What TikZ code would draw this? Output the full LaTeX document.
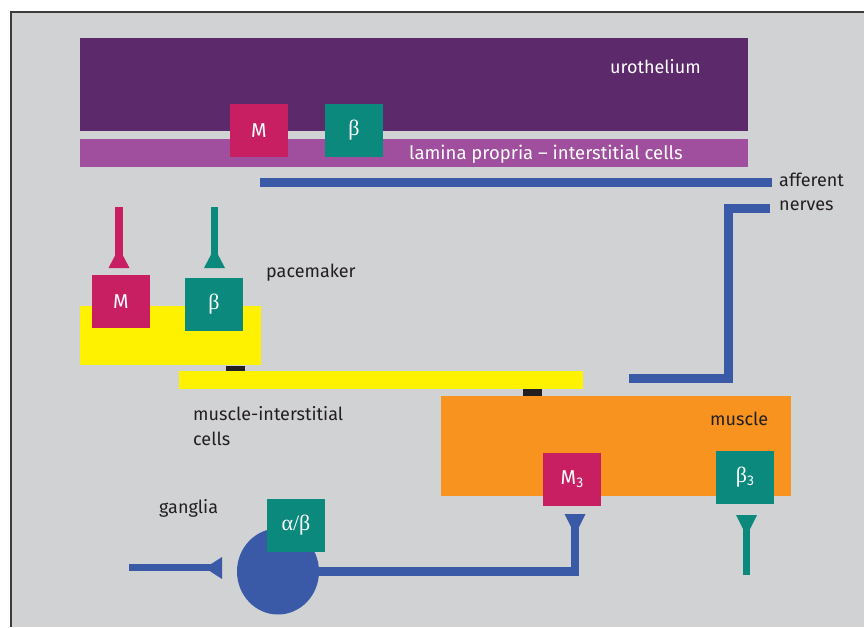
\documentclass[tikz,border=0pt]{standalone}
\usepackage{fontspec}
\setmainfont{Fira Sans}
\newfontfamily\grk{Liberation Serif}
\usetikzlibrary{shapes.geometric}

\definecolor{panel}{HTML}{D1D2D4}
\definecolor{frameline}{HTML}{3C3C3C}
\definecolor{uroviolet}{HTML}{5C296A}
\definecolor{lamviolet}{HTML}{A04F9E}
\definecolor{recmag}{HTML}{C81F63}
\definecolor{recteal}{HTML}{0A897C}
\definecolor{nerveblue}{HTML}{3A5AA8}
\definecolor{paceyellow}{HTML}{FFF200}
\definecolor{muscorange}{HTML}{F7931E}
\definecolor{ink}{HTML}{231F20}

\tikzset{
  layer/.style={inner sep=0pt, outer sep=0pt, anchor=north west, draw=none},
  recbox/.style={layer, minimum width=58pt, minimum height=53pt,
    text=white, font=\fontsize{20}{20}\selectfont},
  gapjn/.style={layer, fill=ink, minimum width=19pt},
  darktext/.style={anchor=base west, inner sep=0pt, text=ink,
    font=\fontsize{18}{18}\selectfont},
  lighttext/.style={darktext, text=white},
  nerve/.style={draw=nerveblue, line width=9pt, line join=miter},
  stem/.style={line width=7.5pt},
}
\newcommand\subthree{\raisebox{-3pt}{\fontsize{14}{14}\selectfont 3}}

\begin{document}
\begin{tikzpicture}[x=1pt, y=-1pt]
\useasboundingbox (0,0) rectangle (864,627);
\fill[white] (0,0) rectangle (864,627);
\fill[panel] (11,12) rectangle (864,627);
\draw[frameline, line width=1.6pt] (11,627) -- (11,12) -- (864,12);

% mucosa layers
\node[layer, fill=uroviolet, minimum width=668pt, minimum height=93pt] (uro) at (80,38) {};
\node[layer, fill=lamviolet, minimum width=668pt, minimum height=28pt] (lam) at (80,139) {};
\node[lighttext] (urotxt) at (610,73) {urothelium};
\node[lighttext, font=\fontsize{18.5}{18.5}\selectfont] (lamtxt) at (409,159) {lamina propria -- interstitial cells};
\node[recbox, fill=recmag] (mTop) at (230,104) {M};
\node[recbox, fill=recteal] (bTop) at (325,104) {\grk\fontsize{22}{22}\selectfont β};

% afferent nerves
\coordinate (affA) at (260,182.5);
\coordinate (affB) at (772,182.5);
\draw[nerve] (affA) -- (affB);
\node[darktext] (afftxt) at (779,186) {afferent};
\node[darktext] (nervtxt) at (779,210) {nerves};
\coordinate (effA) at (770,208.5);
\coordinate (effB) at (629,378.5);
\draw[nerve] (effA) -- (728.5,208.5) |- (effB);

% pacemaker interstitial cells
\node[layer, fill=paceyellow, minimum width=181pt, minimum height=59pt] (pace) at (80,306) {};
\node[recbox, fill=recmag] (mPace) at (92,275) {M};
\node[recbox, fill=recteal] (bPace) at (185,278) {\grk\fontsize{22}{22}\selectfont β};
\node[darktext] (pacetxt) at (266,277) {pacemaker};

% receptors on the pacemaker cells
\draw[recmag, stem] (119,207) -- (119,256);
\fill[recmag] (119,248) -- (129.5,268) -- (108.5,268) -- cycle;
\draw[recteal, stem] (214.5,207) -- (214.5,256);
\fill[recteal] (214.5,248) -- (225,268) -- (204,268) -- cycle;

% muscle-interstitial cells
\node[layer, fill=paceyellow, minimum width=404pt, minimum height=18pt] (mic) at (179,371) {};
\node[gapjn, minimum height=5pt] (gj1) at (226,366) {};
\node[darktext] (mictxt) at (193,420) {muscle-interstitial};
\node[darktext] (mictxt2) at (193,445) {cells};

% smooth muscle
\node[layer, fill=muscorange, minimum width=350pt, minimum height=100pt] (musc) at (441,396) {};
\node[gapjn, minimum height=7pt] (gj2) at (523,389) {};
\node[darktext] (musctxt) at (710,425) {muscle};
\node[recbox, fill=recmag] (m3) at (543,453) {M\subthree};
\node[recbox, fill=recteal] (b3) at (716,451) {{\grk\fontsize{22}{22}\selectfont β}\subthree};

% ganglion and efferent fibre
\node[ellipse, fill=nerveblue, inner sep=0pt, minimum width=82pt, minimum height=86pt] (gang) at (278,571.5) {};
\node[darktext] (gangtxt) at (159,513) {ganglia};
\coordinate (m3stem) at (575,525);
\draw[nerve, line width=8.5pt] (gang.center) -- (575,571.5) -- (m3stem);
\fill[nerveblue] (575,535) -- (585.5,514) -- (564.5,514) -- cycle;
\node[recbox, fill=recteal] (ab) at (267,499) {\grk\fontsize{22}{22}\selectfont α/β};

% preganglionic input
\coordinate (preA) at (129,567.5);
\coordinate (preB) at (212,567.5);
\draw[nerveblue, line width=7pt] (preA) -- (preB);
\fill[nerveblue] (205,568) -- (222,557) -- (222,579) -- cycle;

% beta3 receptor below the muscle
\draw[recteal, stem] (746.5,575) -- (746.5,527);
\fill[recteal] (746.5,536) -- (757,515) -- (736,515) -- cycle;
\end{tikzpicture}
\end{document}
